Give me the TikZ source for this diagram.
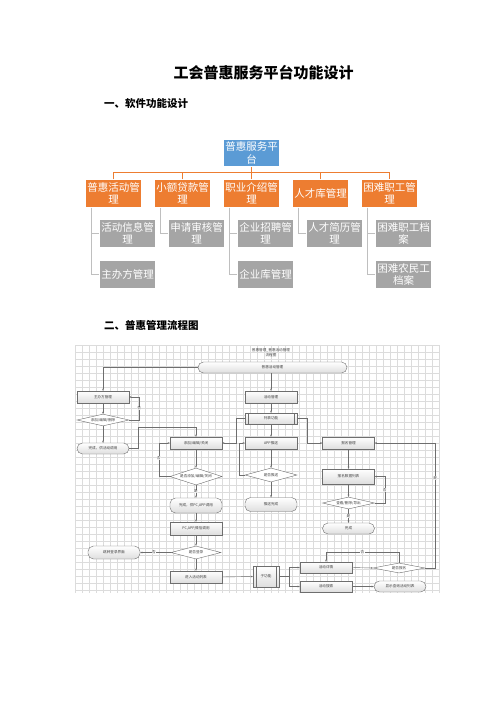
\documentclass[tikz,border=0pt]{standalone}
\usepackage{fontspec}
\newfontfamily\cjk{Noto Sans CJK SC}
\usetikzlibrary{shapes.geometric,arrows.meta}
\definecolor{oblue}{HTML}{5B9BD5}
\definecolor{oorange}{HTML}{ED7D31}
\definecolor{ogray}{HTML}{A5A5A5}
\definecolor{glink}{HTML}{BFBFBF}
\definecolor{fline}{HTML}{6E6E6E}
\definecolor{gridc}{HTML}{DCDCDC}
\begin{document}
\begin{tikzpicture}[x=1pt,y=-1pt,
  orgbase/.style={draw=white, line width=0.6, text=white, minimum width=56, minimum height=27.5, inner sep=0, align=center, font=\cjk\fontsize{10.5}{12.5}\selectfont},
  ob/.style={orgbase, fill=oblue},
  oo/.style={orgbase, fill=oorange},
  og/.style={orgbase, fill=ogray},
  olink/.style={draw=oorange, line width=0.9},
  glinkst/.style={draw=glink, line width=0.9},
  ff/.style={font=\cjk\fontsize{3.6}{4.3}\selectfont},
  fb/.style={ff, draw=fline, line width=0.4, top color=white, bottom color=black!13, minimum width=52, minimum height=12, inner sep=0, text=black!75, align=center},
  term/.style={fb, rounded corners=5.5},
  dia/.style={ff, diamond, draw=fline, fill=white, line width=0.4, aspect=3, minimum width=52, minimum height=12, inner sep=0, text=black!75, align=center},
  arr/.style={draw=fline, line width=0.4, -{Stealth[length=2.2pt,width=1.8pt]}},
  lab/.style={ff, fill=white, inner sep=0.4, text=black!75}
]
\fill[white] (0,0) rectangle (496,702);
\useasboundingbox (0,0) rectangle (496,702);

% headings
\node[inner sep=0, font=\cjk\bfseries\fontsize{15}{18}\selectfont] (title) at (263.5,73) {工会普惠服务平台功能设计};
\node[anchor=west, inner sep=0, font=\cjk\bfseries\fontsize{10.5}{12}\selectfont] (h1) at (104,104) {一、软件功能设计};
\node[anchor=west, inner sep=0, font=\cjk\bfseries\fontsize{10.5}{12}\selectfont] (h2) at (104,325) {二、普惠管理流程图};

% ---------- org chart ----------
\node[ob] (top) at (251.5,153) {普惠服务平\\台};
\node[oo] (o1) at (113.5,193.5) {普惠活动管\\理};
\node[oo] (o2) at (182.5,193.5) {小额贷款管\\理};
\node[oo] (o3) at (251.5,193.5) {职业介绍管\\理};
\node[oo] (o4) at (320.5,193.5) {人才库管理};
\node[oo] (o5) at (389.5,193.5) {困难职工管\\理};

\node[og] (c11) at (127.5,233.5) {活动信息管\\理};
\node[og] (c12) at (127.5,274.5) {主办方管理};
\node[og] (c21) at (196.5,233.5) {申请审核管\\理};
\node[og] (c31) at (265.5,233.5) {企业招聘管\\理};
\node[og] (c32) at (265.5,274.5) {企业库管理};
\node[og] (c41) at (334.5,233.5) {人才简历管\\理};
\node[og] (c51) at (403.5,233.5) {困难职工档\\案};
\node[og] (c52) at (403.5,274.5) {困难农民工\\档案};

\coordinate (hbar) at (251.5,172.5);
\draw[olink] (top.south) -- (hbar);
\draw[olink] (o1.north) |- (hbar) -| (o5.north);
\foreach \o in {o2,o3,o4} \draw[olink] (\o.north) -- (\o.north |- hbar);

\foreach \o/\c in {o1/c11,o1/c12,o2/c21,o3/c31,o3/c32,o4/c41,o5/c51,o5/c52}
  \draw[glinkst] ([xshift=6pt]\o.south west) |- (\c.west);

% ---------- flow chart ----------
\foreach \gx in {75,82,...,439} \draw[gridc, line width=0.3] (\gx,345) -- (\gx,593);
\foreach \gy in {345,352,...,593} \draw[gridc, line width=0.3] (75,\gy) -- (439,\gy);

\node[ff, align=center, inner sep=0, text=black!75] (ftitle) at (271,352.5) {普惠管理\_普惠活动管理\\流程图};
\node[term, minimum width=149, minimum height=11] (t0) at (272.5,367.5) {普惠活动管理};

\node[fb] (b1) at (271,397) {活动管理};
\node[fb, minimum height=11] (s1) at (271,418.5) {列表功能};
\node[fb] (b2) at (271,443) {APP推送};
\node[dia, minimum height=14] (d1) at (271,475) {是否推送};
\node[term, minimum height=14] (t1) at (271,504.5) {推送完成};

\node[fb] (b3) at (348.5,443) {报名管理};
\node[fb, minimum height=15] (b4) at (348.5,476.5) {报名数据列表};
\node[dia] (d2) at (348.5,503) {查看/删除/导出};
\node[term, minimum height=11] (t2) at (348.5,528.5) {完成};

\node[fb] (b5) at (103,397) {主办方管理};
\node[dia, minimum height=10] (d3) at (103,420) {添加/编辑/删除};
\node[term, minimum height=11] (t3) at (103,448.5) {完成，供活动调用};

\node[fb] (b6) at (196,443) {添加/编辑/关闭};
\node[dia, minimum height=17] (d4) at (196,476.5) {是否添加/编辑/关闭};
\node[term, minimum height=15] (t4) at (196,505.5) {完成，供PC,APP调用};
\node[fb, minimum height=13] (b7) at (196,528.5) {PC,APP,微信调用};
\node[dia, minimum width=50, minimum height=13] (d5) at (196,552.5) {是否登录};
\node[term, minimum height=13] (t5) at (114,552.5) {跳转登录界面};
\node[fb] (b8) at (196,577) {进入活动列表};

\node[fb, minimum width=26, minimum height=21] (s2) at (266,576.5) {子功能};
\node[fb, minimum height=11] (b9) at (326,567.5) {活动详情};
\node[fb, minimum height=11] (b10) at (326,586.5) {活动搜索};
\node[dia, minimum height=10] (d6) at (399,568) {是否报名};
\node[term, minimum height=11] (t6) at (400,586.5) {显示查询活动列表};

% subprocess side bars
\foreach \s/\d in {s1/3,s2/3}{
  \draw[fline, line width=0.4] ([xshift=\d pt]\s.north west) -- ([xshift=\d pt]\s.south west);
  \draw[fline, line width=0.4] ([xshift=-\d pt]\s.north east) -- ([xshift=-\d pt]\s.south east);
}

\coordinate (k1) at (196,427);

% connectors
\draw[arr] (t0.west) -| (b5.north);
\draw[arr] (t0.south -| b1.north) -- (b1.north);
\draw[arr] (b1) -- (s1);
\draw[arr] (s1) -- (b2);
\draw[arr] (b2) -- (d1);
\draw[arr] (d1) -- (t1);
\draw[arr] (s1.east) -- ++(10,0) |- (b3.west);
\draw[arr] (s1.west) -- ++(-9,0) |- (b6.east);
\draw[arr] (d1.west) -- ++(-6,0) |- (b2.west);

\draw[arr] (b3) -- (b4);
\draw[arr] (b4) -- (d2);
\draw[arr] (d2) -- node[lab]{是} (t2);
\draw[arr] (d2.east) -- ++(10,0) |- node[lab, pos=0.25]{否} (b4.east);

\draw[arr] (b5) -- (d3);
\draw[arr] (d3) -- (t3);
\draw[arr] (d3.east) -- ++(10,0) |- node[lab, pos=0.25]{否} (b5.east);
\draw[arr] (t3.east) -- ++(9,0) |- (k1) -- (b6.north);

\draw[arr] (b6) -- (d4);
\draw[arr] (d4) -- node[lab]{是} (t4);
\draw[arr] (d4.west) -- ++(-11,0) |- node[lab, pos=0.28]{否} (b6.west);
\draw[arr] (t4) -- (b7);
\draw[arr] (b7) -- (d5);
\draw[arr] (d5) -- (b8);
\draw[arr] (d5.west) -- node[lab, pos=0.55]{否} (t5.east);
\draw[arr] (b8.east) -- (s2.west);

\draw[arr] (s2.east) -- ++(10,0) |- (b9.west);
\draw[arr] (s2.east) -- ++(10,0) |- (b10.west);
\draw[arr] (b9.east) -- (d6.west);
\draw[arr] (d6.north) -- ++(0,-11) -| node[lab, pos=0.25]{否} (b9.north);
\draw[arr] (d6.east) -- ++(10,0) |- node[lab, pos=0.36]{是} (b3.east);
\draw[arr] (b10.east) -- (t6.west);
\end{tikzpicture}
\end{document}
